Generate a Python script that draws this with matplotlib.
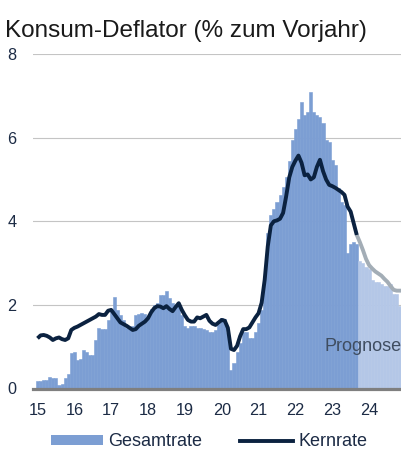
import matplotlib
matplotlib.use("Agg")
import matplotlib.pyplot as plt
from matplotlib.patches import Patch
from matplotlib.lines import Line2D
import numpy as np

plt.rcParams['font.family'] = ['Liberation Sans', 'DejaVu Sans']

# Monthly data Jan 2015 .. Dec 2024
months = [f"{y}-{m:02d}" for y in range(2015, 2025) for m in range(1, 13)]

gesamtrate = [
    0.18, 0.18, 0.20, 0.20, 0.27, 0.25, 0.24, 0.08, 0.10, 0.24, 0.35, 0.85,   # 2015
    0.88, 0.68, 0.70, 0.92, 0.88, 0.80, 0.80, 1.16, 1.45, 1.43, 1.43, 1.64,   # 2016
    1.85, 2.20, 1.88, 1.76, 1.64, 1.45, 1.42, 1.50, 1.75, 1.78, 1.80, 1.78,   # 2017
    1.70, 1.90, 2.00, 2.05, 2.24, 2.24, 2.32, 2.16, 2.04, 2.00, 1.98, 1.76,   # 2018
    1.50, 1.45, 1.50, 1.50, 1.45, 1.45, 1.42, 1.40, 1.36, 1.36, 1.40, 1.55,   # 2019
    1.68, 1.66, 1.33, 0.44, 0.60, 0.88, 1.10, 1.36, 1.36, 1.20, 1.20, 1.36,   # 2020
    1.56, 1.88, 2.67, 3.72, 4.15, 4.30, 4.47, 4.63, 4.83, 5.05, 5.45, 5.95,   # 2021
    6.20, 6.45, 6.86, 6.55, 6.62, 7.10, 6.62, 6.55, 6.50, 6.35, 5.95, 5.90,   # 2022
    5.47, 5.35, 4.80, 4.45, 4.40, 3.25, 3.45, 3.50, 3.45, 3.05, 3.00, 2.90,   # 2023
    2.85, 2.60, 2.55, 2.55, 2.50, 2.45, 2.45, 2.50, 2.25, 2.25, 1.98, 1.98,   # 2024
]

kernrate = [
    1.20, 1.27, 1.28, 1.26, 1.22, 1.16, 1.20, 1.22, 1.18, 1.16, 1.20, 1.40,   # 2015
    1.45, 1.48, 1.52, 1.56, 1.60, 1.64, 1.68, 1.72, 1.78, 1.76, 1.76, 1.86,   # 2016
    1.88, 1.78, 1.68, 1.58, 1.54, 1.50, 1.45, 1.40, 1.42, 1.50, 1.55, 1.60,   # 2017
    1.68, 1.82, 1.92, 1.97, 1.96, 1.92, 1.97, 1.90, 1.85, 1.95, 2.04, 1.88,   # 2018
    1.75, 1.64, 1.60, 1.60, 1.70, 1.68, 1.72, 1.76, 1.62, 1.55, 1.52, 1.58,   # 2019
    1.64, 1.62, 1.45, 0.95, 0.92, 1.02, 1.25, 1.42, 1.42, 1.46, 1.58, 1.70,   # 2020
    1.80, 2.05, 2.60, 3.40, 3.90, 4.00, 4.02, 4.06, 4.20, 4.60, 5.05, 5.30,   # 2021
    5.45, 5.57, 5.40, 5.10, 5.12, 5.00, 5.05, 5.30, 5.47, 5.20, 5.00, 4.87,   # 2022
    4.84, 4.80, 4.75, 4.70, 4.63, 4.35, 4.23, 3.95, 3.67, 3.50, 3.31, 3.10,   # 2023
    2.95, 2.87, 2.80, 2.75, 2.70, 2.62, 2.55, 2.45, 2.36, 2.34, 2.34, 2.34,   # 2024
]

forecast_start = 105          # Oct 2023: first forecast month
year_ticks = [0, 12, 24, 36, 48, 60, 72, 84, 96, 108]
year_labels = ['15', '16', '17', '18', '19', '20', '21', '22', '23', '24']
y_ticks = [0, 2, 4, 6, 8]

c_bar = '#7c9ed3'
c_bar_fc = '#b4c7e7'
c_line = '#0b2240'
c_line_fc = '#a3adb6'
c_text = '#1c2b45'

W, H = 401, 451
fig = plt.figure(figsize=(W / 100, H / 100), dpi=100)
ax = fig.add_axes([33 / W, (H - 388.5) / H, (W - 33) / W, (388.5 - 54) / H])

idx = np.arange(len(months))
vals = np.array(gesamtrate)
core = np.array(kernrate)
colors = [c_bar if i < forecast_start else c_bar_fc for i in idx]
ax.bar(idx, vals, width=1.0, color=colors, edgecolor=colors, linewidth=0.4, zorder=2)

ax.plot(idx[forecast_start - 1:], core[forecast_start - 1:], color=c_line_fc, lw=2.8,
        solid_capstyle='butt', solid_joinstyle='round', zorder=3)
ax.plot(idx[:forecast_start], core[:forecast_start], color=c_line, lw=2.8,
        solid_capstyle='butt', solid_joinstyle='round', zorder=4)

ax.set_xlim(-1.47, 118.4)
ax.set_ylim(0, 8)
ax.set_yticks(y_ticks)
ax.set_yticklabels([str(v) for v in y_ticks])
ax.set_xticks(year_ticks)
ax.set_xticklabels(year_labels)
ax.tick_params(axis='y', length=0, pad=12, labelsize=11.7, labelcolor=c_text)
ax.tick_params(axis='x', length=0, pad=10.5, labelsize=11.7, labelcolor=c_text)
for s in ax.spines.values():
    s.set_visible(False)
ax.grid(axis='y', color='#c4c4c4', lw=0.8, zorder=1)
ax.set_axisbelow(True)
ax.axhline(0, color='#7f7f7f', lw=2.3, zorder=5, clip_on=False)

fig.text(5 / W, 1 - 37 / H, 'Konsum-Deflator (% zum Vorjahr)', fontsize=17.5,
         color='#1a1a1a', va='baseline', ha='left')
fig.text(324 / W, 1 - 351 / H, 'Prognose', fontsize=13, color='#3f4d60',
         va='baseline', ha='left', zorder=10)

handles = [Patch(facecolor=c_bar, edgecolor='none'),
           Line2D([0], [0], color=c_line, lw=2.8)]
fig.legend(handles, ['Gesamtrate', 'Kernrate'], loc='center',
           bbox_to_anchor=(209 / W, 1 - 442 / H), ncol=2, frameon=False,
           fontsize=13, handlelength=2.9, handleheight=0.5, handletextpad=0.3,
           columnspacing=2.1, borderpad=0, labelcolor=c_text)

fig.savefig('out.png', dpi=100)
